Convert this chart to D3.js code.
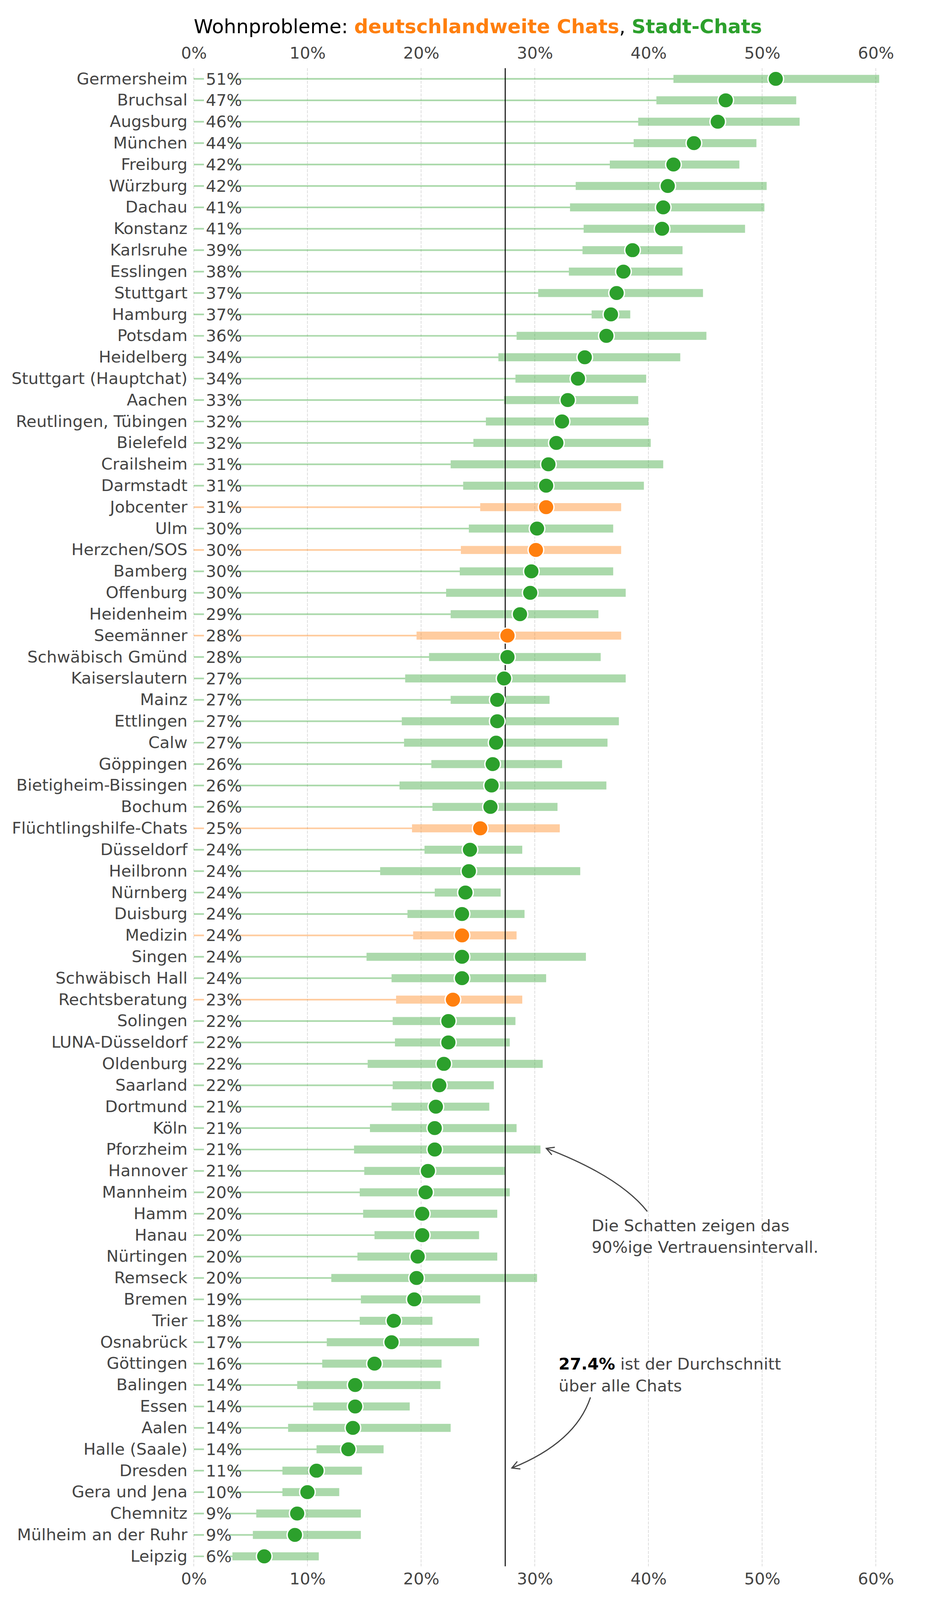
<!DOCTYPE html>
<html>
<head>
<meta charset="utf-8">
<script src="https://cdn.jsdelivr.net/npm/d3@7"></script>
<style>
  html, body { margin: 0; padding: 0; background: #fff; overflow: hidden; }
  svg { display: block; }
  text { font-family: "DejaVu Sans", sans-serif; }
</style>
</head>
<body>
<script>
// chats, sorted as in the chart (top to bottom)
const names = ["Germersheim","Bruchsal","Augsburg","München","Freiburg","Würzburg","Dachau","Konstanz","Karlsruhe","Esslingen",
  "Stuttgart","Hamburg","Potsdam","Heidelberg","Stuttgart (Hauptchat)","Aachen","Reutlingen, Tübingen","Bielefeld","Crailsheim","Darmstadt",
  "Jobcenter","Ulm","Herzchen/SOS","Bamberg","Offenburg","Heidenheim","Seemänner","Schwäbisch Gmünd","Kaiserslautern","Mainz",
  "Ettlingen","Calw","Göppingen","Bietigheim-Bissingen","Bochum","Flüchtlingshilfe-Chats","Düsseldorf","Heilbronn","Nürnberg","Duisburg",
  "Medizin","Singen","Schwäbisch Hall","Rechtsberatung","Solingen","LUNA-Düsseldorf","Oldenburg","Saarland","Dortmund","Köln",
  "Pforzheim","Hannover","Mannheim","Hamm","Hanau","Nürtingen","Remseck","Bremen","Trier","Osnabrück",
  "Göttingen","Balingen","Essen","Aalen","Halle (Saale)","Dresden","Gera und Jena","Chemnitz","Mülheim an der Ruhr","Leipzig"];

// share with housing problems (%)
const values = [51.2,46.8,46.1,44.0,42.2,41.7,41.3,41.2,38.6,37.8,
  37.2,36.7,36.3,34.4,33.8,32.9,32.4,31.9,31.2,31.0,
  31.0,30.2,30.1,29.7,29.6,28.7,27.6,27.6,27.3,26.7,
  26.7,26.6,26.3,26.2,26.1,25.2,24.3,24.2,23.9,23.6,
  23.6,23.6,23.6,22.8,22.4,22.4,22.0,21.6,21.3,21.2,
  21.2,20.6,20.4,20.1,20.1,19.7,19.6,19.4,17.6,17.4,
  15.9,14.2,14.2,14.0,13.6,10.8,10.0,9.1,8.9,6.2];

// 90% confidence interval
const lows = [42.2,40.7,39.1,38.7,36.6,33.6,33.1,34.3,34.2,33.0,
  30.3,35.0,28.4,26.8,28.3,27.3,25.7,24.6,22.6,23.7,
  25.2,24.2,23.5,23.4,22.2,22.6,19.6,20.7,18.6,22.6,
  18.3,18.5,20.9,18.1,21.0,19.2,20.3,16.4,21.2,18.8,
  19.3,15.2,17.4,17.8,17.5,17.7,15.3,17.5,17.4,15.5,
  14.1,15.0,14.6,14.9,15.9,14.4,12.1,14.7,14.6,11.7,
  11.3,9.1,10.5,8.3,10.8,7.8,7.8,5.5,5.2,3.4];
const highs = [60.3,53.0,53.3,49.5,48.0,50.4,50.2,48.5,43.0,43.0,
  44.8,38.4,45.1,42.8,39.8,39.1,40.0,40.2,41.3,39.6,
  37.6,36.9,37.6,36.9,38.0,35.6,37.6,35.8,38.0,31.3,
  37.4,36.4,32.4,36.3,32.0,32.2,28.9,34.0,27.0,29.1,
  28.4,34.5,31.0,28.9,28.3,27.8,30.7,26.4,26.0,28.4,
  30.5,27.4,27.8,26.7,25.1,26.7,30.2,25.2,21.0,25.1,
  21.8,21.7,19.0,22.6,16.7,14.8,12.8,14.7,14.7,11.0];

const nationalChats = ["Jobcenter","Herzchen/SOS","Seemänner","Flüchtlingshilfe-Chats","Medizin","Rechtsberatung"];
const xTicks = [0,10,20,30,40,50,60];
const meanValue = 27.4;

const W = 2368, H = 4178;
const green = "#2ca02c", orange = "#ff7f0e", textGray = "#444";
const fs = 41.7;

const rows = names.map((n, i) => ({name: n, v: values[i], lo: lows[i], hi: highs[i],
  col: nationalChats.includes(n) ? orange : green}));

// drawing is laid out on a 2368x4178 canvas and fitted to the window
const svg = d3.select("body").append("svg")
  .attr("viewBox", `0 0 ${W} ${H}`)
  .attr("preserveAspectRatio", "none")
  .style("width", "100vw").style("height", "100vh")
  .style("background", "#fff");

const yTop = 178, yBottom = 4090;
const x = d3.scaleLinear().domain([0, 60]).range([496, 2242]);
const y = d3.scalePoint().domain(names).range([206, 4064]);

// grid
svg.append("g").selectAll("line").data(xTicks).enter()
  .append("line")
  .attr("x1", d => x(d)).attr("x2", d => x(d))
  .attr("y1", yTop).attr("y2", yBottom)
  .attr("stroke", "#dedede")
  .attr("stroke-width", 2.1)
  .attr("stroke-dasharray", "7.7,3.3");

// axes (labels only)
const xaxisTop = d3.axisTop(x).tickValues(xTicks).tickFormat(d => d + "%").tickSize(0).tickPadding(25);
const xaxisBottom = d3.axisBottom(x).tickValues(xTicks).tickFormat(d => d + "%").tickSize(0).tickPadding(18);
const gTop = svg.append("g").attr("transform", `translate(0,${yTop})`).call(xaxisTop);
const gBot = svg.append("g").attr("transform", `translate(0,${yBottom})`).call(xaxisBottom);
[gTop, gBot].forEach(g => {
  g.select(".domain").remove();
  g.selectAll("text").attr("font-size", fs).attr("fill", textGray).attr("font-family", "DejaVu Sans");
});

const yaxis = d3.axisLeft(y).tickSize(0).tickPadding(16);
const gY = svg.append("g").attr("transform", `translate(${x(0)},0)`).call(yaxis);
gY.select(".domain").remove();
gY.selectAll("text").attr("font-size", fs).attr("fill", textGray).attr("font-family", "DejaVu Sans");

const g = svg.append("g");

// thin leader line from 0 to the interval
g.selectAll("line.lead").data(rows).enter()
  .append("line").attr("class", "lead")
  .attr("x1", x(0)).attr("x2", d => x(d.lo))
  .attr("y1", d => y(d.name)).attr("y2", d => y(d.name))
  .attr("stroke", d => d.col).attr("stroke-opacity", 0.4)
  .attr("stroke-width", 4.3);

// gap behind the percentage label
g.selectAll("rect.gap").data(rows).enter()
  .append("rect").attr("class", "gap")
  .attr("x", x(0.9)).attr("width", x(3.15) - x(0.9))
  .attr("y", d => y(d.name) - 6).attr("height", 12)
  .attr("fill", "#fff");

// confidence interval shadows
g.selectAll("rect.ci").data(rows).enter()
  .append("rect").attr("class", "ci")
  .attr("x", d => x(d.lo)).attr("width", d => x(d.hi) - x(d.lo))
  .attr("y", d => y(d.name) - 10.5).attr("height", 21)
  .attr("fill", d => d.col).attr("fill-opacity", 0.4);

// percentage labels
g.selectAll("text.pct").data(rows).enter()
  .append("text").attr("class", "pct")
  .attr("x", x(0) + 31).attr("y", d => y(d.name))
  .attr("dy", "0.36em")
  .attr("font-size", fs).attr("fill", textGray)
  .text(d => Math.round(d.v) + "%");

// mean line
svg.append("line")
  .attr("x1", x(meanValue)).attr("x2", x(meanValue))
  .attr("y1", yTop).attr("y2", yBottom)
  .attr("stroke", "#000").attr("stroke-width", 2.5);

// dots
svg.append("g").selectAll("circle").data(rows).enter()
  .append("circle")
  .attr("cx", d => x(d.v)).attr("cy", d => y(d.name))
  .attr("r", 20)
  .attr("fill", d => d.col)
  .attr("stroke", "#fff").attr("stroke-width", 3.5);

// title
const title = svg.append("text")
  .attr("x", x(0)).attr("y", 87)
  .attr("font-size", 50);
title.append("tspan").attr("fill", "#000").text("Wohnprobleme: ");
title.append("tspan").attr("fill", orange).attr("font-weight", "bold").text("deutschlandweite Chats");
title.append("tspan").attr("fill", "#000").text(", ");
title.append("tspan").attr("fill", green).attr("font-weight", "bold").text("Stadt-Chats");

// annotations
function curvedArrow(p0, c, p2) {
  svg.append("path")
    .attr("d", `M${p0[0]},${p0[1]} Q${c[0]},${c[1]} ${p2[0]},${p2[1]}`)
    .attr("fill", "none").attr("stroke", textGray).attr("stroke-width", 3);
  const ang = Math.atan2(p2[1] - c[1], p2[0] - c[0]);
  const L = 22, a = 0.5;
  const pts = [
    [p2[0] - L * Math.cos(ang - a), p2[1] - L * Math.sin(ang - a)],
    p2,
    [p2[0] - L * Math.cos(ang + a), p2[1] - L * Math.sin(ang + a)]
  ];
  svg.append("path")
    .attr("d", d3.line()(pts))
    .attr("fill", "none").attr("stroke", textGray).attr("stroke-width", 3)
    .attr("stroke-linejoin", "miter");
}

const t1x = x(35.0), t1y = y("Hamm") + 31;
const ann1 = svg.append("text").attr("font-size", fs).attr("fill", textGray);
ann1.append("tspan").attr("x", t1x).attr("y", t1y).attr("dy", "0.36em").text("Die Schatten zeigen das");
ann1.append("tspan").attr("x", t1x).attr("y", t1y + 56).attr("dy", "0.36em").text("90%ige Vertrauensintervall.");
const tip1 = [x(highs[names.indexOf("Pforzheim")]) + 15, y("Pforzheim") - 3];
curvedArrow([x(39.9), t1y - 37], [1586, 3072], tip1);

const t2x = x(32.1), t2y = y("Göttingen");
const ann2 = svg.append("text").attr("font-size", fs).attr("fill", textGray);
const l1 = ann2.append("tspan").attr("x", t2x).attr("y", t2y).attr("dy", "0.36em");
l1.append("tspan").attr("font-weight", "bold").attr("fill", "#000").text(meanValue + "%");
l1.append("tspan").text(" ist der Durchschnitt");
ann2.append("tspan").attr("x", t2x).attr("y", t2y + 58).attr("dy", "0.36em").text("über alle Chats");
const tip2 = [x(meanValue) + 17, y("Dresden") - 7];
curvedArrow([x(34.9), t2y + 88], [1473, 3767], tip2);
</script>
</body>
</html>
